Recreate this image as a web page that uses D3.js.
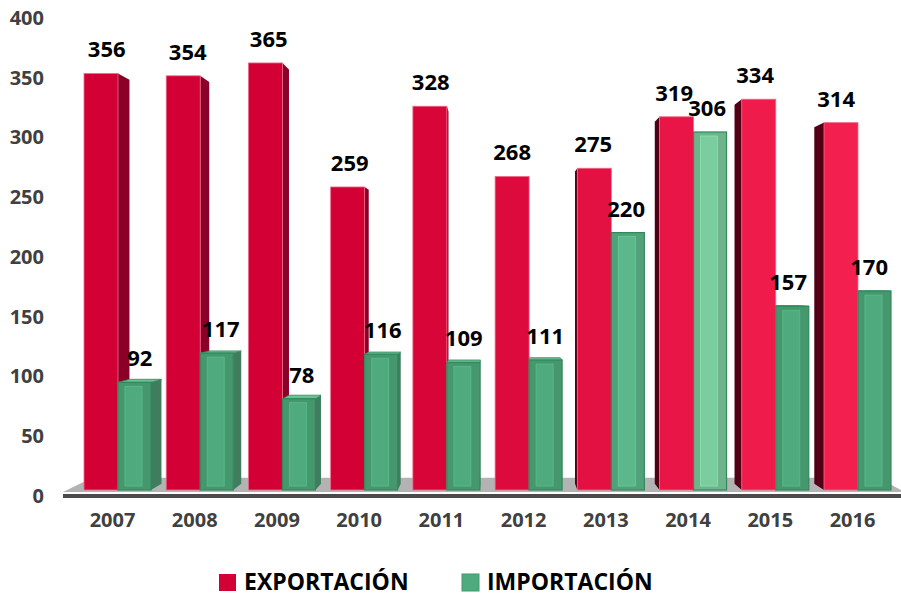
<!doctype html>
<html>
<head>
	<meta charset="UTF-8">
	<title>Exportación e importación</title>
	<script src="https://d3js.org/d3.v7.min.js"></script>
	<style>
		body { margin: 0; background: #fff; }
		text { font-family: "Open Sans", "DejaVu Sans", sans-serif; font-weight: bold; }
	</style>
</head>
<body>
	<script>
		// Data
		var years = ["2007", "2008", "2009", "2010", "2011", "2012", "2013", "2014", "2015", "2016"];
		var exportacion = [356, 354, 365, 259, 328, 268, 275, 319, 334, 314];
		var importacion = [92, 117, 78, 116, 109, 111, 220, 306, 157, 170];
		var yTicks = [0, 50, 100, 150, 200, 250, 300, 350, 400];
		var seriesNames = ["EXPORTACIÓN", "IMPORTACIÓN"];

		var W = 901, H = 596;

		var svg = d3.select("body").append("svg")
			.attr("width", W)
			.attr("height", H);

		// scales
		var x = d3.scalePoint().domain(years).range([112, 852]);
		var yAxisScale = d3.scaleLinear().domain([0, 400]).range([496, 18]);
		var yBar = d3.scaleLinear().domain([0, 400]).range([490, 22]);

		// fake perspective: vanishing point and depth factor
		var vp = {x: 500, y: 280}, f = 0.03, fFloor = 0.067;
		function back(px, py, k) {
			k = k || f;
			return [px + k * (vp.x - px), py + k * (vp.y - py)];
		}
		function pts(a) { return a.map(function(p) { return p.join(","); }).join(" "); }

		// floor
		var fl = 63, fr = 905, fy = 492;
		var bl = back(fl, fy, fFloor), br = back(fr, fy, fFloor);
		svg.append("polygon")
			.attr("points", pts([[fl, fy], [fr, fy], br, bl]))
			.attr("fill", "#b3b3b3");
		svg.append("rect")
			.attr("x", fl).attr("y", 494)
			.attr("width", fr - fl).attr("height", 4)
			.attr("fill", "#4a4a4a");

		// y axis labels
		var yAxis = d3.axisLeft(yAxisScale).tickValues(yTicks).tickSize(0).tickPadding(0);
		var gy = svg.append("g").attr("transform", "translate(44,0)").call(yAxis);
		gy.select(".domain").remove();
		gy.selectAll("text")
			.style("font-size", "20px")
			.style("font-family", "'Open Sans', sans-serif")
			.style("font-weight", "bold")
			.attr("fill", "#404040");

		// x axis labels
		var xAxis = d3.axisBottom(x).tickSize(0).tickPadding(0);
		var gx = svg.append("g").attr("transform", "translate(0,513)").call(xAxis);
		gx.select(".domain").remove();
		gx.selectAll("text")
			.style("font-size", "20px")
			.style("font-family", "'Open Sans', sans-serif")
			.style("font-weight", "bold")
			.attr("fill", "#404040");

		// build bars
		var bars = [];
		years.forEach(function(yr, i) {
			var c = x(yr);
			bars.push({kind: "exp", i: i, v: exportacion[i], x0: c - 28, x1: c + 6});
			bars.push({kind: "imp", i: i, v: importacion[i], x0: c + 6, x1: c + 39});
		});
		bars.forEach(function(b) {
			b.top = yBar(b.v);
			b.base = yBar(0);
			b.side = null;
			if (b.x1 < vp.x) {
				b.side = [[b.x1, b.top], back(b.x1, b.top), back(b.x1, b.base), [b.x1, b.base]];
				b.left = b.x0; b.right = back(b.x1, b.top)[0];
			} else if (b.x0 > vp.x) {
				b.side = [[b.x0, b.top], back(b.x0, b.top), back(b.x0, b.base), [b.x0, b.base]];
				b.left = back(b.x0, b.top)[0]; b.right = b.x1;
			} else {
				b.left = b.x0; b.right = b.x1;
			}
		});

		function redFront(i) {
			var t = Math.max(0, (i - 3) / 6);
			return d3.interpolateRgb("#d20034", "#f3204f")(t);
		}
		function greenFront(i) {
			return years[i] === "2014" ? "#7bcc9f" : (years[i] === "2013" ? "#5cb88a" : "#4fab7d");
		}

		// side faces
		svg.append("g").selectAll("polygon")
			.data(bars.filter(function(b) { return b.side; }))
			.join("polygon")
			.attr("points", function(b) { return pts(b.side); })
			.attr("fill", function(b) {
				if (b.kind === "exp") return b.x1 < vp.x ? "#8b0026" : "#520015";
				return "#3f7d5e";
			});

		// top faces (only visible below eye level)
		svg.append("g").selectAll("polygon")
			.data(bars.filter(function(b) { return b.top > vp.y; }))
			.join("polygon")
			.attr("points", function(b) {
				return pts([[b.x0, b.top], [b.x1, b.top], back(b.x1, b.top), back(b.x0, b.top)]);
			})
			.attr("fill", function(b) { return b.kind === "exp" ? "#e8335c" : "#6cc094"; })
			.attr("stroke", function(b) { return b.kind === "exp" ? "#b0002a" : "#2f8a5a"; })
			.attr("stroke-width", 0.8);

		// red fronts
		svg.append("g").selectAll("rect")
			.data(bars.filter(function(b) { return b.kind === "exp"; }))
			.join("rect")
			.attr("x", function(b) { return b.x0; })
			.attr("y", function(b) { return b.top; })
			.attr("width", function(b) { return b.x1 - b.x0; })
			.attr("height", function(b) { return b.base - b.top; })
			.attr("fill", function(b) { return redFront(b.i); })
			.attr("stroke", "#ef6a88")
			.attr("stroke-width", 0.8);

		// green fronts, with an inner lighter panel
		var gFront = svg.append("g").selectAll("g")
			.data(bars.filter(function(b) { return b.kind === "imp"; }))
			.join("g");
		gFront.append("rect")
			.attr("x", function(b) { return b.x0; })
			.attr("y", function(b) { return b.top; })
			.attr("width", function(b) { return b.x1 - b.x0; })
			.attr("height", function(b) { return b.base - b.top; })
			.attr("fill", function(b) { return d3.color(greenFront(b.i)).darker(0.35); })
			.attr("stroke", "#2f8a5a")
			.attr("stroke-width", 1.2);
		gFront.append("rect")
			.attr("x", function(b) { return b.x0 + 7; })
			.attr("y", function(b) { return b.top + 4; })
			.attr("width", function(b) { return b.x1 - b.x0 - 16; })
			.attr("height", function(b) { return Math.max(0, b.base - b.top - 8); })
			.attr("fill", function(b) { return greenFront(b.i); })
			.attr("stroke", function(b) { return d3.color(greenFront(b.i)).brighter(0.3); })
			.attr("stroke-width", 0.8);

		// value labels
		svg.append("g").selectAll("text")
			.data(bars)
			.join("text")
			.attr("x", function(b) { return (b.left + b.right) / 2; })
			.attr("y", function(b) { return b.top - 16; })
			.attr("text-anchor", "middle")
			.style("font-size", "22px")
			.attr("fill", "#000")
			.text(function(b) { return b.v; });

		// legend
		var legendColors = ["#d20034", "#4fab7d"];
		var legendX = [219, 462];
		var lg = svg.append("g").selectAll("g")
			.data(seriesNames)
			.join("g")
			.attr("transform", function(d, i) { return "translate(" + legendX[i] + ",0)"; });
		lg.append("rect")
			.attr("x", 0).attr("y", 574)
			.attr("width", 17).attr("height", 17)
			.attr("fill", function(d, i) { return legendColors[i]; })
			.attr("stroke", function(d, i) { return i ? "#3f9a6c" : "none"; });
		lg.append("text")
			.attr("x", 25).attr("y", 590)
			.style("font-size", "23px")
			.attr("fill", "#000")
			.text(function(d) { return d; });
	</script>
</body>
</html>
